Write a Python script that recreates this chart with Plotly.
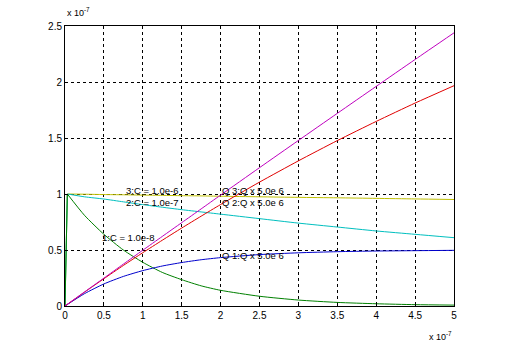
import plotly.graph_objects as go

# time axis (units of 1e-7 s)
t_v = [0, 0.03, 0.25, 0.5, 0.75, 1, 1.25, 1.5, 1.75, 2, 2.5, 3, 3.5, 4, 4.5, 5]
v_c8 = [0, 1.0, 0.81, 0.64, 0.50, 0.39, 0.30, 0.235, 0.18, 0.14, 0.087, 0.053, 0.032, 0.02, 0.012, 0.008]
v_c7 = [0, 1.0, 0.975, 0.955, 0.93, 0.905, 0.882, 0.86, 0.84, 0.82, 0.78, 0.74, 0.705, 0.67, 0.64, 0.61]
v_c6 = [0, 1.0, 0.998, 0.995, 0.993, 0.99, 0.988, 0.985, 0.983, 0.98, 0.975, 0.97, 0.966, 0.961, 0.956, 0.951]

t_q = [0, 0.25, 0.5, 0.75, 1, 1.25, 1.5, 1.75, 2, 2.5, 3, 3.5, 4, 4.5, 5]
q1 = [0, 0.11, 0.197, 0.264, 0.316, 0.357, 0.388, 0.413, 0.432, 0.459, 0.475, 0.485, 0.491, 0.494, 0.497]
q2 = [0, 0.123, 0.244, 0.362, 0.476, 0.587, 0.696, 0.802, 0.906, 1.106, 1.296, 1.477, 1.648, 1.812, 1.967]
q3 = [0, 0.125, 0.249, 0.374, 0.498, 0.621, 0.744, 0.867, 0.990, 1.235, 1.478, 1.720, 1.961, 2.201, 2.439]

x_ticks = [0, 0.5, 1, 1.5, 2, 2.5, 3, 3.5, 4, 4.5, 5]
y_ticks = [0, 0.5, 1, 1.5, 2, 2.5]

labels = ["1:C = 1.0e-8", "2:C = 1.0e-7", "3:C = 1.0e-6",
          "Q 1:Q x 5.0e 6", "Q 2:Q x 5.0e 6", "Q 3:Q x 5.0e 6"]
label_x = [0.46, 0.77, 0.77, 2.0, 2.0, 2.0]
label_y = [0.615, 0.925, 1.03, 0.455, 0.92, 1.03]

fig = go.Figure()
v_series = [(v_c6, "#BFBF00"), (v_c7, "#00BFBF"), (v_c8, "#008000")]
for ys, c in v_series:
    # initial step (linear) then smooth decay
    fig.add_trace(go.Scatter(x=t_v[:2], y=ys[:2], mode="lines", line=dict(color=c, width=1),
                             showlegend=False, hoverinfo="skip"))
    fig.add_trace(go.Scatter(x=t_v[1:], y=ys[1:], mode="lines",
                             line=dict(color=c, width=1, shape="spline", smoothing=0.6),
                             showlegend=False, hoverinfo="skip"))

q_series = [(q1, "#0000CC"), (q2, "#E00000"), (q3, "#BF00BF")]
for ys, c in q_series:
    fig.add_trace(go.Scatter(x=t_q, y=ys, mode="lines",
                             line=dict(color=c, width=1, shape="spline", smoothing=0.6),
                             showlegend=False, hoverinfo="skip"))

for txt, lx, ly in zip(labels, label_x, label_y):
    fig.add_annotation(x=lx, y=ly, text=txt, showarrow=False, xanchor="left", yanchor="middle",
                       font=dict(size=9.5, color="black"), borderpad=0)

fig.add_annotation(xref="paper", yref="paper", x=0.0, y=1.0, yshift=6, text="x 10<sup>-7</sup>",
                   showarrow=False, xanchor="left", yanchor="bottom", font=dict(size=9, color="black"))
fig.add_annotation(xref="paper", yref="paper", x=1.0, y=0.0, yshift=-22, text="x 10<sup>-7</sup>",
                   showarrow=False, xanchor="right", yanchor="top", font=dict(size=9, color="black"))

axis_common = dict(showline=True, mirror=True, linecolor="black", linewidth=1,
                   showgrid=True, gridcolor="black", griddash="3px,3px", gridwidth=1,
                   zeroline=False, ticks="inside", ticklen=3, tickcolor="black",
                   tickfont=dict(size=10, color="black", family="Liberation Sans"))
fig.update_xaxes(range=[0, 5], tickvals=x_ticks, ticktext=[str(v) for v in x_ticks], **axis_common)
fig.update_yaxes(range=[0, 2.5], tickvals=y_ticks, ticktext=[str(v) for v in y_ticks], **axis_common)

fig.update_layout(width=508, height=358, margin=dict(l=65, r=54, t=26, b=52),
                  plot_bgcolor="white", paper_bgcolor="white",
                  font=dict(family="Liberation Sans", size=10, color="black"))

fig.write_html("out.html", config={"displayModeBar": False},
               post_script="document.body.style.margin='0';document.body.style.padding='0';")
